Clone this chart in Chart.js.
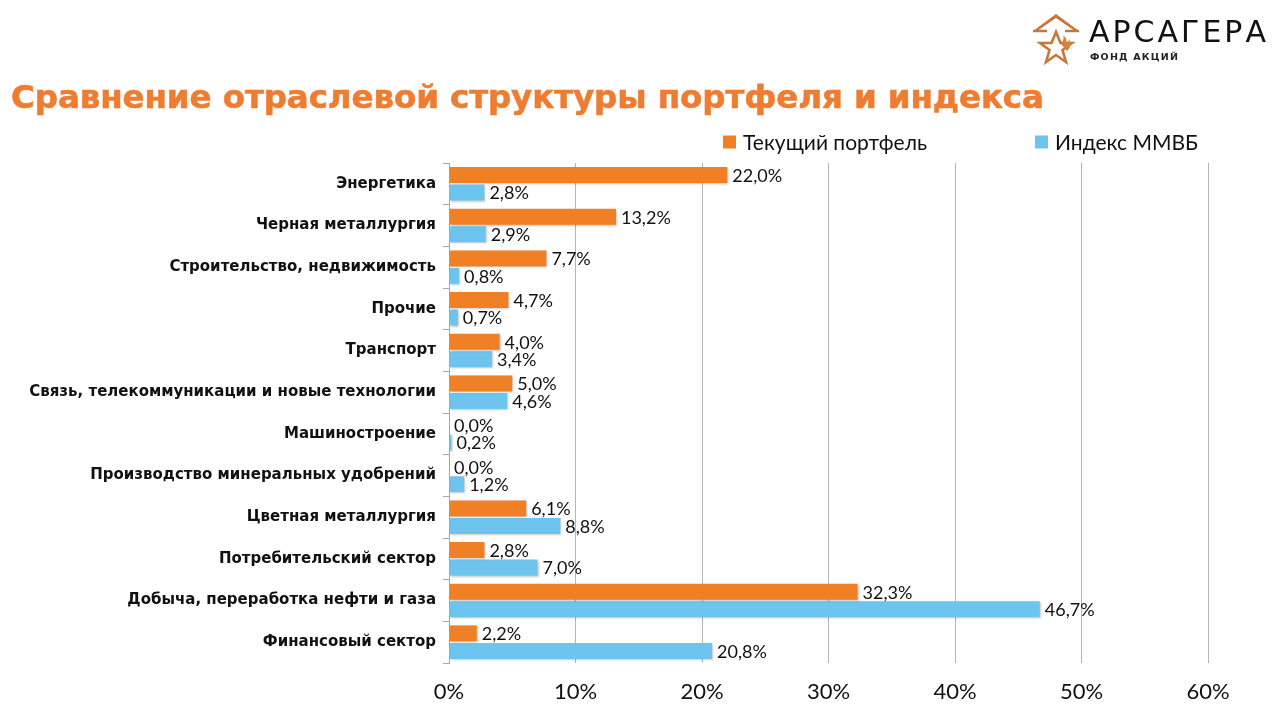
<!DOCTYPE html>
<html><head><meta charset="utf-8">
<script src="https://cdn.jsdelivr.net/npm/chart.js@4.4.0/dist/chart.umd.min.js"></script>
<style>
html,body{margin:0;padding:0;background:#fff;}
#wrap{position:relative;width:1280px;height:720px;overflow:hidden;background:#fff;}
#c{position:absolute;left:0;top:0;}
#title{position:absolute;left:11px;top:78px;font-family:"DejaVu Sans";font-weight:bold;font-size:32.5px;color:#EE7D31;white-space:nowrap;letter-spacing:-0.1px;-webkit-text-stroke:0.6px #EE7D31;}
#logoIcon{position:absolute;left:1025px;top:8px;}
#logoName{position:absolute;left:1089px;top:14px;font-family:"DejaVu Sans";font-size:30px;letter-spacing:3px;color:#111;white-space:nowrap;}
#logoSub{position:absolute;left:1090px;top:51px;font-family:"DejaVu Sans";font-weight:bold;font-size:9.5px;letter-spacing:1.2px;color:#222;white-space:nowrap;}
</style>
</head><body>
<div id="wrap">
<canvas id="c" width="1280" height="720"></canvas>
<div id="title">Сравнение отраслевой структуры портфеля и индекса</div>
<svg id="logoIcon" width="62" height="62" viewBox="0 0 62 62">
  <path d="M8 23 L31 6 L54 23 L50 23 L31 10 L12 23 Z" fill="#C8773A"/>
  <path d="M8 23 L22 23 M40 23 L54 23" stroke="#C8773A" stroke-width="2.5" fill="none"/>
  <polygon points="31,24 35.5,35 47,35 37.5,42 41,54 31,47 21,54 24.5,42 15,35 26.5,35" fill="none" stroke="#C8773A" stroke-width="2.6" stroke-linejoin="miter"/>
  <path d="M36 36 Q40 31 38 27 Q43 31 41 36 Q44 34 44 31 Q48 37 42 43 Z" fill="#D9803A"/>
</svg>
<div id="logoName">АРСАГЕРА</div>
<div id="logoSub">ФОНД АКЦИЙ</div>
</div>
<script>
const categories = [
  'Энергетика',
  'Черная металлургия',
  'Строительство, недвижимость',
  'Прочие',
  'Транспорт',
  'Связь, телекоммуникации и новые технологии',
  'Машиностроение',
  'Производство минеральных удобрений',
  'Цветная металлургия',
  'Потребительский сектор',
  'Добыча, переработка нефти и газа',
  'Финансовый сектор'
];
const portfolioValues = [22.0, 13.2, 7.7, 4.7, 4.0, 5.0, 0.0, 0.0, 6.1, 2.8, 32.3, 2.2];
const indexValues = [2.8, 2.9, 0.8, 0.7, 3.4, 4.6, 0.2, 1.2, 8.8, 7.0, 46.7, 20.8];
const seriesNames = ['Текущий портфель', 'Индекс ММВБ'];
const axisMin = 0, axisMax = 60, axisStep = 10;

const ORANGE = '#F08026';
const BLUE = '#6CC4EF';
const fmt = v => v.toFixed(1).replace('.', ',') + '%';

const shadowPlugin = {
  id: 'barShadow',
  beforeDatasetsDraw(chart) {
    const ctx = chart.ctx;
    ctx.save();
    ctx.shadowColor = 'rgba(0,0,0,0.22)';
    ctx.shadowBlur = 2;
    ctx.shadowOffsetX = 1;
    ctx.shadowOffsetY = 1;
  },
  afterDatasetsDraw(chart) {
    chart.ctx.restore();
  }
};

const valueLabels = {
  id: 'valueLabels',
  afterDatasetsDraw(chart) {
    const ctx = chart.ctx;
    ctx.save();
    ctx.font = '18px Lato, "Open Sans", sans-serif';
    ctx.fillStyle = '#111';
    ctx.textAlign = 'left';
    ctx.textBaseline = 'middle';
    chart.data.datasets.forEach((ds, i) => {
      const meta = chart.getDatasetMeta(i);
      meta.data.forEach((bar, j) => {
        ctx.fillText(fmt(ds.data[j]), bar.x + 5, bar.y + 1);
      });
    });
    ctx.restore();
  }
};

const customLegend = {
  id: 'customLegend',
  afterDraw(chart) {
    const ctx = chart.ctx;
    ctx.save();
    ctx.font = '21px Lato, "Open Sans", sans-serif';
    ctx.textBaseline = 'middle';
    ctx.textAlign = 'left';
    const y = 142;
    const gap = 108;
    const box = 13;
    let xEnd = chart.chartArea.right - 10;
    const items = chart.data.datasets.map(d => ({ text: d.label, color: d.backgroundColor }));
    for (let k = items.length - 1; k >= 0; k--) {
      const it = items[k];
      const w = ctx.measureText(it.text).width;
      const tx = xEnd - w;
      const bx = tx - 7 - box;
      ctx.fillStyle = it.color;
      ctx.fillRect(bx, y - box / 2, box, box);
      ctx.fillStyle = '#111';
      ctx.fillText(it.text, tx, y + 1);
      xEnd = bx - gap;
    }
    ctx.restore();
  }
};

new Chart(document.getElementById('c'), {
  type: 'bar',
  data: {
    labels: categories,
    datasets: [
      { label: seriesNames[0], data: portfolioValues, backgroundColor: ORANGE, categoryPercentage: 0.84, barPercentage: 0.91 },
      { label: seriesNames[1], data: indexValues, backgroundColor: BLUE, categoryPercentage: 0.84, barPercentage: 0.91 }
    ]
  },
  options: {
    indexAxis: 'y',
    responsive: false,
    animation: false,
    layout: { padding: { top: 163, right: 72, bottom: 0, left: 0 } },
    plugins: {
      legend: { display: false },
      title: { display: false },
      tooltip: { enabled: false }
    },
    scales: {
      x: {
        min: axisMin, max: axisMax,
        ticks: {
          stepSize: axisStep,
          callback: v => v + '%',
          font: { family: 'Lato, "Open Sans", sans-serif', size: 22 },
          color: '#111',
          padding: 16
        },
        grid: { color: '#b5b5b5', lineWidth: 1, drawTicks: false },
        border: { display: false },
        afterFit(scale) { scale.height = 57; }
      },
      y: {
        ticks: {
          font: { family: '"DejaVu Sans"', size: 15, weight: 'bold' },
          color: '#111',
          padding: 7,
          autoSkip: false
        },
        grid: { drawOnChartArea: false, tickLength: 6, color: '#a6a6a6', offset: true },
        border: { color: '#a6a6a6' },
        afterFit(scale) { scale.width = 449; }
      }
    }
  },
  plugins: [shadowPlugin, valueLabels, customLegend]
});
</script>
</body></html>
